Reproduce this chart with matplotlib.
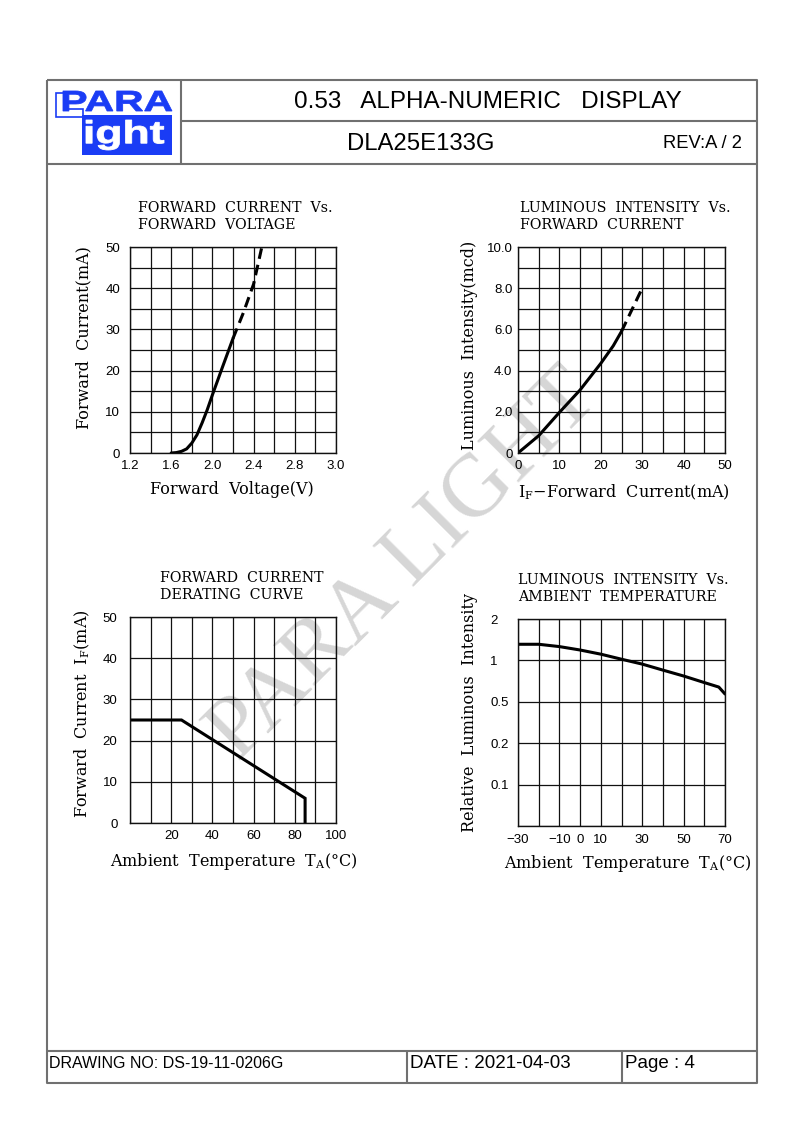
import numpy as np
import matplotlib
matplotlib.use('Agg')
import matplotlib.pyplot as plt
from matplotlib.patches import PathPatch, Polygon
from matplotlib.textpath import TextPath
from matplotlib.font_manager import FontProperties
from matplotlib.transforms import Affine2D
from matplotlib.ticker import FixedLocator, FixedFormatter

W, H = 794, 1123

# forward current vs forward voltage
fv_volt = [1.6, 1.65, 1.7, 1.75, 1.8, 1.85, 1.9, 1.95, 2.0, 2.1, 2.2]
fv_curr = [0, 0.1, 0.4, 1.0, 2.4, 4.4, 7.3, 10.5, 14.1, 21, 27.8]
fv_volt_ext = [2.2, 2.3, 2.4, 2.48]
fv_curr_ext = [27.8, 34, 41, 50]
fv_xgrid = [1.2, 1.4, 1.6, 1.8, 2.0, 2.2, 2.4, 2.6, 2.8, 2.9, 3.0]
fv_xlabels = ['1.2', '', '1.6', '', '2.0', '', '2.4', '', '2.8', '', '3.0']

# luminous intensity vs forward current
li_curr = [0, 5, 10, 15, 20, 23, 25]
li_mcd = [0, 0.84, 1.97, 3.06, 4.35, 5.2, 5.9]
li_curr_ext = [25, 30]
li_mcd_ext = [5.9, 8.0]

# derating curve
dr_temp = [0, 25, 85, 85]
dr_curr = [25, 25, 6, 0]

# relative luminous intensity vs ambient temperature
rt_temp = [-30, -20, -10, 0, 10, 20, 30, 40, 50, 60, 67, 70]
rt_rel = [1.31, 1.31, 1.26, 1.19, 1.11, 1.02, 0.94, 0.85, 0.77, 0.69, 0.64, 0.57]
rt_ylevels = [0.05, 0.1, 0.2, 0.5, 1, 2]
rt_ylabels = ['', '0.1', '0.2', '0.5', '1', '2']

BLUE = '#1a3cf5'
BORDER = '#707070'
GRID = '#111111'
SERIF = 'DejaVu Serif'
SANS = 'Liberation Sans'
LABEL_FS = 11.5
TITLE_FS = 10.2

fig = plt.figure(figsize=(W / 100, H / 100), dpi=100)

page = fig.add_axes([0, 0, 1, 1], zorder=0)
page.set_xlim(0, W)
page.set_ylim(H, 0)
page.axis('off')


def box(l, t, r, b):
    ax = fig.add_axes([l / W, 1 - b / H, (r - l) / W, (b - t) / H], zorder=2)
    ax.set_facecolor('none')
    return ax


def fit_text(s, x0, y0, x1, y1, color, weight='bold', family=SANS):
    tp = TextPath((0, 0), s, size=100, prop=FontProperties(family=family, weight=weight))
    ext = tp.get_extents()
    sx = (x1 - x0) / ext.width
    sy = (y1 - y0) / ext.height
    tr = Affine2D().translate(-ext.x0, -ext.y1).scale(sx, -sy).translate(x0, y0)
    page.add_patch(PathPatch(tr.transform_path(tp), facecolor=color, edgecolor=color,
                             lw=0.6, zorder=3))


def line(xs, ys, lw=1.5, color=BORDER):
    page.plot(xs, ys, color=color, lw=lw, solid_capstyle='butt')


# page frame
line([47, 757, 757, 47, 47], [80, 80, 1083, 1083, 80])
line([181, 181], [80, 164])
line([181, 757], [121, 121])
line([47, 757], [164, 164])
line([47, 757], [1051, 1051])
line([407, 407], [1051, 1083])
line([622, 622], [1051, 1083])

# logo
page.add_patch(Polygon([(56, 93), (64, 93), (64, 109), (83, 109), (83, 117), (56, 117)],
                       closed=True, facecolor='white', edgecolor=BLUE, lw=1.2, zorder=2))
page.add_patch(Polygon([(82, 115), (172, 115), (172, 155), (82, 155)],
                       closed=True, facecolor=BLUE, edgecolor='none', zorder=2))
fit_text('PARA', 63, 91, 172, 111, BLUE)
fit_text('ight', 86, 120, 164, 150, 'white')

# header / footer text
page.text(488, 102, '0.53   ALPHA-NUMERIC   DISPLAY', fontsize=17.5, family=SANS,
          ha='center', va='center')
page.text(421, 144, 'DLA25E133G', fontsize=17.2, family=SANS, ha='center', va='center')
page.text(742, 144, 'REV:A / 2', fontsize=13.2, family=SANS, ha='right', va='center')
page.text(49, 1064, 'DRAWING NO: DS-19-11-0206G', fontsize=11.5, family=SANS, va='center')
page.text(410, 1064, 'DATE : 2021-04-03', fontsize=13.5, family=SANS, va='center')
page.text(625, 1064, 'Page : 4', fontsize=13.5, family=SANS, va='center')

# watermark
page.text(404, 566, 'PARA LIGHT', fontsize=64, family='Liberation Serif', color='#d6d6d6',
          rotation=45, rotation_mode='anchor', ha='center', va='center', zorder=1)


def style(ax, xgrid, xlabels, ygrid, ylabels, xpad, ypad):
    ax.xaxis.set_major_locator(FixedLocator(xgrid))
    ax.xaxis.set_major_formatter(FixedFormatter(xlabels))
    ax.yaxis.set_major_locator(FixedLocator(ygrid))
    ax.yaxis.set_major_formatter(FixedFormatter(ylabels))
    ax.grid(True, color=GRID, lw=0.9)
    ax.tick_params(length=0, labelsize=9.5)
    ax.tick_params(axis='x', pad=xpad)
    ax.tick_params(axis='y', pad=ypad)
    for lab in ax.get_xticklabels() + ax.get_yticklabels():
        lab.set_family(SANS)
    for sp in ax.spines.values():
        sp.set_color(GRID)
        sp.set_linewidth(1.0)


def title(x, y, l1, l2):
    page.text(x, y, l1, fontsize=TITLE_FS, family=SERIF, va='center')
    page.text(x, y + 17, l2, fontsize=TITLE_FS, family=SERIF, va='center')


# chart 1 : forward current vs forward voltage
ax1 = box(130, 247, 336, 453)
fwd1 = lambda v: np.interp(v, [1.2, 2.8, 3.0], [0, 8, 10])
inv1 = lambda p: np.interp(p, [0, 8, 10], [1.2, 2.8, 3.0])
ax1.set_xscale('function', functions=(fwd1, inv1))
ax1.set_xlim(1.2, 3.0)
ax1.set_ylim(0, 50)
style(ax1, fv_xgrid, fv_xlabels, list(range(0, 51, 5)),
      [str(v) if v % 10 == 0 else '' for v in range(0, 51, 5)], 5, 7)
ax1.plot(fv_volt, fv_curr, color='black', lw=2.2, solid_capstyle='round')
ax1.plot(fv_volt_ext, fv_curr_ext, color='black', lw=2.2, ls=(0, (3.5, 2)))
title(138, 208, 'FORWARD  CURRENT  Vs.', 'FORWARD  VOLTAGE')
page.text(232, 490, 'Forward  Voltage(V)', fontsize=LABEL_FS, family=SERIF, ha='center',
          va='center')
page.text(84, 338, 'Forward  Current(mA)', fontsize=LABEL_FS, family=SERIF, ha='center',
          va='center', rotation=90)

# chart 2 : luminous intensity vs forward current
ax2 = box(518, 247, 725, 453)
ax2.set_xlim(0, 50)
ax2.set_ylim(0, 10)
style(ax2, list(range(0, 51, 5)), [str(v) if v % 10 == 0 else '' for v in range(0, 51, 5)],
      list(range(0, 11)), ['0' if v == 0 else ('%.1f' % v if v % 2 == 0 else '') for v in range(0, 11)],
      5, 4)
ax2.plot(li_curr, li_mcd, color='black', lw=2.2, solid_capstyle='round')
ax2.plot(li_curr_ext, li_mcd_ext, color='black', lw=2.2, ls=(0, (3.5, 2)))
title(520, 208, 'LUMINOUS  INTENSITY  Vs.', 'FORWARD  CURRENT')
page.text(624, 492, r'I$\mathregular{_F}$$-$Forward  Current(mA)', fontsize=LABEL_FS,
          family=SERIF, ha='center', va='center')
page.text(469, 345, 'Luminous  Intensity(mcd)', fontsize=LABEL_FS, family=SERIF, ha='center',
          va='center', rotation=90)

# chart 3 : derating curve
ax3 = box(130, 617, 336, 823)
ax3.set_xlim(0, 100)
ax3.set_ylim(0, 50)
style(ax3, list(range(0, 101, 10)),
      [str(v) if v % 20 == 0 and v > 0 else '' for v in range(0, 101, 10)],
      list(range(0, 51, 10)), [str(v) for v in range(0, 51, 10)], 5, 9)
ax3.plot(dr_temp, dr_curr, color='black', lw=2.2, solid_joinstyle='miter')
title(160, 578, 'FORWARD  CURRENT', 'DERATING  CURVE')
page.text(234, 861, r'Ambient  Temperature  T$\mathregular{_A}$(°C)', fontsize=LABEL_FS,
          family=SERIF, ha='center', va='center')
page.text(82, 714, r'Forward  Current  I$\mathregular{_F}$(mA)', fontsize=LABEL_FS,
          family=SERIF, ha='center', va='center', rotation=90)

# chart 4 : relative luminous intensity vs ambient temperature
ax4 = box(518, 619, 725, 826)
lg = np.log10(rt_ylevels)
pos = np.arange(len(rt_ylevels))
fwd4 = lambda v: np.interp(np.log10(np.clip(v, 1e-3, None)), lg, pos)
inv4 = lambda p: 10 ** np.interp(p, pos, lg)
ax4.set_yscale('function', functions=(fwd4, inv4))
ax4.set_xlim(-30, 70)
ax4.set_ylim(rt_ylevels[0], rt_ylevels[-1])
style(ax4, list(range(-30, 71, 10)),
      ['\u221230', '', '\u221210', '0', '10', '', '30', '', '50', '', '70'],
      rt_ylevels, rt_ylabels, 6, 20)
for lab in ax4.get_yticklabels():
    lab.set_horizontalalignment('left')
ax4.plot(rt_temp, rt_rel, color='black', lw=2.2, solid_capstyle='round')
title(518, 580, 'LUMINOUS  INTENSITY  Vs.', 'AMBIENT  TEMPERATURE')
page.text(628, 863, r'Ambient  Temperature  T$\mathregular{_A}$(°C)', fontsize=LABEL_FS,
          family=SERIF, ha='center', va='center')
page.text(470, 712, 'Relative  Luminous  Intensity', fontsize=LABEL_FS, family=SERIF,
          ha='center', va='center', rotation=90)

fig.savefig('out.png', dpi=100)
